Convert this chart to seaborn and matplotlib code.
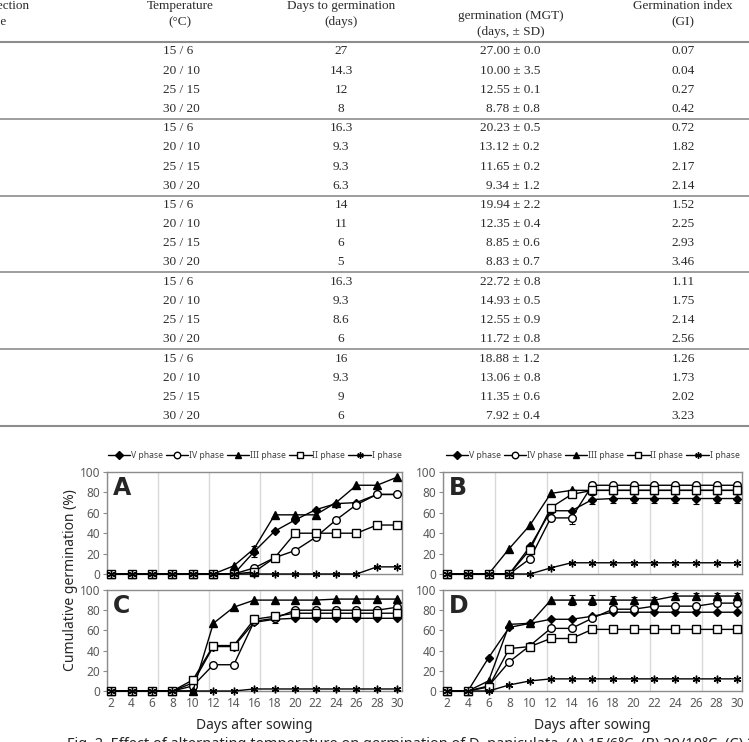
import matplotlib
matplotlib.use('Agg')
import matplotlib.pyplot as plt
import seaborn as sns
from matplotlib.lines import Line2D
from matplotlib.ticker import MultipleLocator

sns.set_style('white')
plt.rcParams['font.family'] = ['Noto Sans', 'DejaVu Sans']

# ---- table values ----
temps = ['15 / 6', '20 / 10', '25 / 15', '30 / 20']
days_to_germ = ['27', '14.3', '12', '8', '16.3', '9.3', '9.3', '6.3', '14', '11',
                '6', '5', '16.3', '9.3', '8.6', '6', '16', '9.3', '9', '6']
mgt = ['27.00 ± 0.0', '10.00 ± 3.5', '12.55 ± 0.1', '8.78 ± 0.8',
       '20.23 ± 0.5', '13.12 ± 0.2', '11.65 ± 0.2', '9.34 ± 1.2',
       '19.94 ± 2.2', '12.35 ± 0.4', '8.85 ± 0.6', '8.83 ± 0.7',
       '22.72 ± 0.8', '14.93 ± 0.5', '12.55 ± 0.9', '11.72 ± 0.8',
       '18.88 ± 1.2', '13.06 ± 0.8', '11.35 ± 0.6', '7.92 ± 0.4']
gi = ['0.07', '0.04', '0.27', '0.42', '0.72', '1.82', '2.17', '2.14', '1.52', '2.25',
      '2.93', '3.46', '1.11', '1.75', '2.14', '2.56', '1.26', '1.73', '2.02', '3.23']

# ---- germination curves ----
days = [2, 4, 6, 8, 10, 12, 14, 16, 18, 20, 22, 24, 26, 28, 30]
phases = ['V phase', 'IV phase', 'III phase', 'II phase', 'I phase']

A_V   = [0, 0, 0, 0, 0, 0, 0, 22, 42, 53, 63, 69, 70, 78, 78]
A_IV  = [0, 0, 0, 0, 0, 0, 0, 6, 16, 23, 36, 53, 68, 78, 78]
A_III = [0, 0, 0, 0, 0, 0, 8, 25, 58, 58, 58, 70, 87, 87, 95]
A_II  = [0, 0, 0, 0, 0, 0, 0, 2, 16, 40, 40, 40, 40, 48, 48]
A_I   = [0, 0, 0, 0, 0, 0, 0, 0, 0, 0, 0, 0, 0, 7, 7]

B_V   = [0, 0, 0, 0, 27, 62, 62, 73, 74, 74, 74, 74, 74, 74, 74]
B_IV  = [0, 0, 0, 0, 15, 55, 55, 87, 87, 87, 87, 87, 87, 87, 87]
B_III = [0, 0, 0, 25, 48, 79, 82, 82, 82, 82, 82, 82, 82, 82, 82]
B_II  = [0, 0, 0, 0, 24, 65, 78, 82, 82, 82, 82, 82, 82, 82, 82]
B_I   = [0, 0, 0, 0, 0, 6, 11, 11, 11, 11, 11, 11, 11, 11, 11]

C_V   = [0, 0, 0, 0, 8, 44, 44, 68, 71, 72, 72, 72, 72, 72, 72]
C_IV  = [0, 0, 0, 0, 5, 26, 26, 69, 72, 80, 80, 80, 80, 80, 83]
C_III = [0, 0, 0, 0, 0, 67, 83, 90, 90, 90, 90, 91, 91, 91, 91]
C_II  = [0, 0, 0, 0, 11, 45, 45, 71, 74, 77, 77, 77, 77, 77, 77]
C_I   = [0, 0, 0, 0, 0, 0, 0, 2, 2, 2, 2, 2, 2, 2, 2]

D_V   = [0, 0, 33, 63, 67, 71, 71, 74, 78, 78, 78, 78, 78, 78, 78]
D_IV  = [0, 0, 5, 29, 45, 62, 62, 72, 81, 81, 84, 84, 84, 87, 87]
D_III = [0, 0, 10, 66, 67, 90, 90, 90, 90, 90, 90, 94, 94, 94, 94]
D_II  = [0, 0, 4, 42, 44, 52, 52, 61, 61, 61, 61, 61, 61, 61, 61]
D_I   = [0, 0, 0, 6, 10, 12, 12, 12, 12, 12, 12, 12, 12, 12, 12]

# standard deviations (only where bars are visible)
A_V_sd   = [0, 0, 0, 0, 0, 0, 0, 5, 0, 0, 0, 0, 0, 0, 0]
B_V_sd   = [0, 0, 0, 0, 0, 0, 0, 4, 4, 4, 4, 4, 5, 4, 4]
B_IV_sd  = [0, 0, 0, 0, 0, 0, 6, 3, 0, 0, 0, 0, 0, 0, 0]
C_II_sd  = [0, 0, 0, 0, 0, 0, 0, 4, 0, 0, 0, 0, 0, 0, 0]
C_IV_sd  = [0, 0, 0, 0, 0, 0, 0, 0, 5, 0, 0, 0, 0, 0, 0]
D_III_sd = [0, 0, 0, 0, 0, 0, 5, 5, 4, 3, 3, 3, 3, 3, 3]
D_IV_sd  = [0, 0, 0, 0, 0, 0, 0, 0, 3, 3, 3, 3, 3, 3, 3]

W, H = 749, 742
fig = plt.figure(figsize=(W / 100, H / 100), dpi=100)


def fx(x):
    return x / W


def fy(y):
    return 1 - y / H


# ---- table ----
serif = ['Liberation Serif', 'DejaVu Serif']
tcol = '#2b2b2b'
tsize = 9.5
fig.text(fx(29), fy(6), 'Selection', ha='right', va='center', family=serif, size=tsize, color=tcol)
fig.text(fx(7), fy(22), 'phase', ha='right', va='center', family=serif, size=tsize, color=tcol)
fig.text(fx(180), fy(6), 'Temperature', ha='center', va='center', family=serif, size=tsize, color=tcol)
fig.text(fx(180), fy(22), '(°C)', ha='center', va='center', family=serif, size=tsize, color=tcol)
fig.text(fx(341), fy(6), 'Days to germination', ha='center', va='center', family=serif, size=tsize, color=tcol)
fig.text(fx(341), fy(22), '(days)', ha='center', va='center', family=serif, size=tsize, color=tcol)
fig.text(fx(511), fy(16), 'germination (MGT)', ha='center', va='center', family=serif, size=tsize, color=tcol)
fig.text(fx(511), fy(32), '(days, ± SD)', ha='center', va='center', family=serif, size=tsize, color=tcol)
fig.text(fx(683), fy(6), 'Germination index', ha='center', va='center', family=serif, size=tsize, color=tcol)
fig.text(fx(683), fy(22), '(GI)', ha='center', va='center', family=serif, size=tsize, color=tcol)

sep_top = 42
group_h = 76.8
row_h = 19.1
for g in range(6):
    y = sep_top + g * group_h
    fig.add_artist(Line2D([0, 1], [fy(y), fy(y)], transform=fig.transFigure,
                          color='#8c8c8c', lw=1.5 if g in (0, 5) else 1.2))
for i in range(20):
    g, k = divmod(i, 4)
    y = sep_top + g * group_h + 9.5 + k * row_h
    fig.text(fx(163), fy(y), temps[k], ha='left', va='center', family=serif, size=tsize, color=tcol)
    fig.text(fx(341), fy(y), days_to_germ[i], ha='center', va='center', family=serif, size=tsize, color=tcol)
    fig.text(fx(540), fy(y), mgt[i], ha='right', va='center', family=serif, size=tsize, color=tcol)
    fig.text(fx(683), fy(y), gi[i], ha='center', va='center', family=serif, size=tsize, color=tcol)

# ---- charts ----
styles = [('D', 4.5, 'black'), ('o', 5.5, 'white'), ('^', 5.5, 'black'),
          ('s', 5.5, 'white'), ((6, 2, 0), 5.5, 'black')]

panels = [
    ('A', [107, 472, 402, 574], [A_V, A_IV, A_III, A_II, A_I], {0: A_V_sd}, False),
    ('B', [443, 472, 742, 574], [B_V, B_IV, B_III, B_II, B_I], {0: B_V_sd, 1: B_IV_sd}, False),
    ('C', [107, 590, 402, 691], [C_V, C_IV, C_III, C_II, C_I], {1: C_IV_sd, 3: C_II_sd}, True),
    ('D', [443, 590, 742, 691], [D_V, D_IV, D_III, D_II, D_I], {1: D_IV_sd, 2: D_III_sd}, True),
]

tick_col = '#595959'
for letter, (x0, y0, x1, y1), series, sds, show_x in panels:
    ax = fig.add_axes([fx(x0), fy(y1), fx(x1) - fx(x0), (y1 - y0) / H])
    handles = []
    for j, vals in enumerate(series):
        marker, ms, face = styles[j]
        sns.lineplot(x=days, y=vals, ax=ax, color='black', lw=1.0, marker=marker,
                     markersize=ms, markerfacecolor=face, markeredgecolor='black',
                     markeredgewidth=1.0, clip_on=False, zorder=3 + j)
        handles.append(ax.lines[-1])
        if j in sds:
            sd = sds[j]
            xs = [d for d, s in zip(days, sd) if s > 0]
            ys = [v for v, s in zip(vals, sd) if s > 0]
            es = [s for s in sd if s > 0]
            ax.errorbar(xs, ys, yerr=es, fmt='none', ecolor='black', elinewidth=0.8,
                        capsize=2.5, capthick=0.8, zorder=2)
    ax.set_xlim(1.6, 30.45)
    ax.set_ylim(0, 100)
    ax.set_yticks([0, 20, 40, 60, 80, 100])
    ax.set_xticks(days)
    ax.xaxis.set_minor_locator(MultipleLocator(5, offset=1.6))
    ax.grid(False)
    ax.grid(True, axis='x', which='minor', color='#d9d9d9', lw=1.0)
    ax.set_xlabel('')
    ax.set_ylabel('')
    for sp in ax.spines.values():
        sp.set_color('#8c8c8c')
        sp.set_linewidth(1.0)
    ax.tick_params(axis='y', which='major', left=True, length=3, width=0.8, color='#8c8c8c',
                   labelsize=8.5, labelcolor=tick_col, pad=2)
    ax.tick_params(axis='x', which='both', bottom=False, length=0, labelsize=8.5,
                   labelcolor=tick_col, pad=4)
    if not show_x:
        ax.set_xticklabels([])
    else:
        ax.set_xticklabels([str(d) for d in days])
    ax.text(0.02, 0.96, letter, transform=ax.transAxes, ha='left', va='top',
            fontsize=17, fontweight='bold', family='DejaVu Sans', color='#262626')
    if not show_x:
        ax.legend(handles, phases, loc='center', bbox_to_anchor=(0.5, 1.16), ncol=5,
                  frameon=False, fontsize=6.2, handlelength=2.6, handletextpad=0.1,
                  columnspacing=0.35, labelcolor='#404040', borderaxespad=0,
                  markerscale=0.85)
    else:
        ax.set_xlabel('Days after sowing', fontsize=10, color='#262626', labelpad=6)

fig.text(fx(70), fy(580), 'Cumulative germination (%)', rotation=90, ha='center', va='center',
         fontsize=10, color='#262626')
fig.text(fx(67), fy(737.5), 'Fig. 2. Effect of alternating temperature on germination of D. paniculata. '
         '(A) 15/6°C, (B) 20/10°C, (C) 25/15°C, (D) 30/20°C', ha='left', va='top',
         fontsize=10.5, color='#262626')

fig.savefig('out.png', dpi=100)
